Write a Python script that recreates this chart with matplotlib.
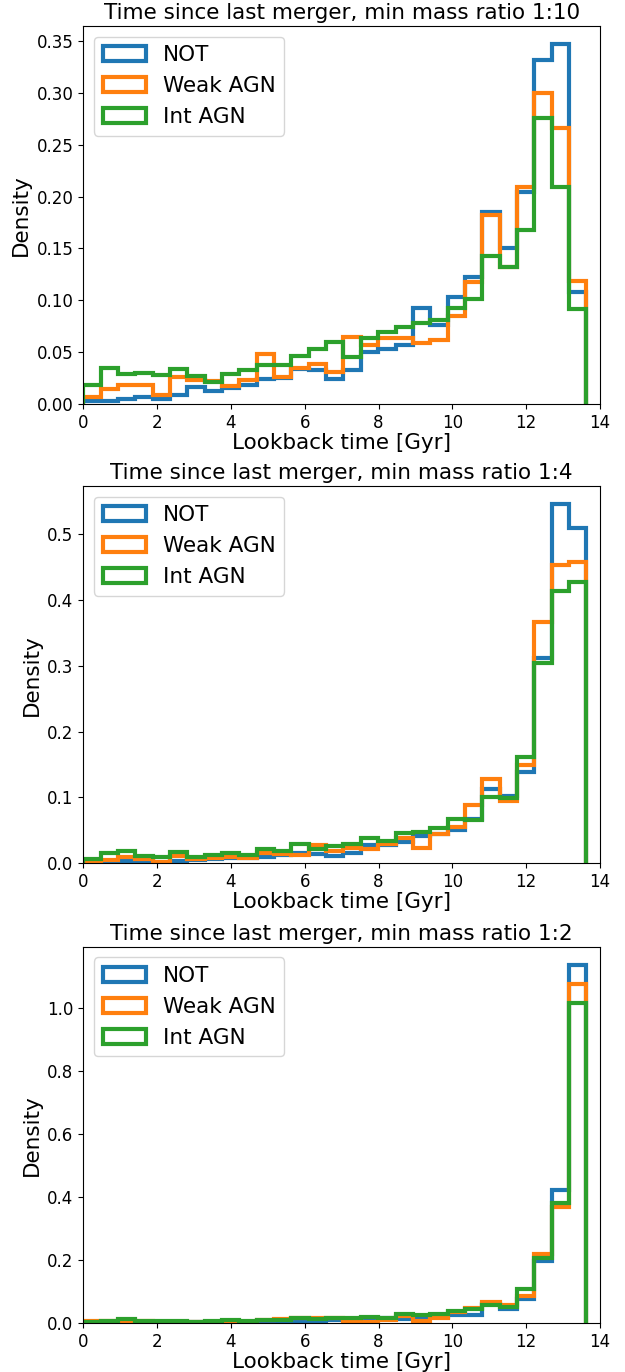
import numpy as np
import matplotlib
matplotlib.use("Agg")
import matplotlib.pyplot as plt

# Bin edges (Gyr)
n_bins = 29
t_max = 13.63
edges = np.linspace(0.0, t_max, n_bins + 1)

labels = ["NOT", "Weak AGN", "Int AGN"]
colors = ["#1f77b4", "#ff7f0e", "#2ca02c"]
titles = ["Time since last merger, min mass ratio 1:10",
          "Time since last merger, min mass ratio 1:4",
          "Time since last merger, min mass ratio 1:2"]

# Panel 1: min mass ratio 1:10
p1_not = [0.003, 0.003, 0.005, 0.007, 0.005, 0.009, 0.016, 0.013, 0.015, 0.018,
          0.024, 0.025, 0.034, 0.033, 0.024, 0.033, 0.050, 0.053, 0.057, 0.093,
          0.076, 0.103, 0.122, 0.185, 0.150, 0.204, 0.332, 0.347, 0.108]
p1_weak = [0.007, 0.014, 0.018, 0.018, 0.009, 0.026, 0.023, 0.022, 0.017, 0.023,
           0.048, 0.026, 0.035, 0.039, 0.031, 0.065, 0.057, 0.064, 0.064, 0.059,
           0.062, 0.085, 0.118, 0.182, 0.132, 0.209, 0.300, 0.266, 0.119]
p1_int = [0.018, 0.035, 0.029, 0.030, 0.028, 0.034, 0.027, 0.021, 0.029, 0.033,
          0.038, 0.038, 0.046, 0.053, 0.060, 0.045, 0.064, 0.069, 0.074, 0.078,
          0.081, 0.093, 0.101, 0.143, 0.132, 0.168, 0.276, 0.209, 0.092]

# Panel 2: min mass ratio 1:4
p2_not = [0.002, 0.002, 0.003, 0.003, 0.000, 0.003, 0.005, 0.006, 0.008, 0.008,
          0.009, 0.013, 0.015, 0.014, 0.011, 0.016, 0.028, 0.028, 0.033, 0.042,
          0.044, 0.051, 0.067, 0.113, 0.102, 0.139, 0.312, 0.546, 0.509]
p2_weak = [0.003, 0.005, 0.009, 0.006, 0.002, 0.011, 0.007, 0.008, 0.010, 0.008,
           0.016, 0.014, 0.013, 0.028, 0.019, 0.023, 0.022, 0.029, 0.038, 0.024,
           0.044, 0.055, 0.089, 0.128, 0.095, 0.149, 0.366, 0.453, 0.458]
p2_int = [0.006, 0.016, 0.018, 0.011, 0.010, 0.017, 0.010, 0.012, 0.015, 0.013,
          0.021, 0.019, 0.029, 0.022, 0.027, 0.030, 0.039, 0.034, 0.046, 0.047,
          0.053, 0.068, 0.066, 0.100, 0.099, 0.161, 0.304, 0.413, 0.428]

# Panel 3: min mass ratio 1:2
p3_not = [0.003, 0.005, 0.007, 0.005, 0.002, 0.003, 0.003, 0.003, 0.005, 0.003,
          0.005, 0.007, 0.003, 0.005, 0.011, 0.013, 0.016, 0.016, 0.013, 0.019,
          0.021, 0.026, 0.026, 0.060, 0.044, 0.076, 0.199, 0.424, 1.138]
p3_weak = [0.007, 0.007, 0.005, 0.007, 0.003, 0.005, 0.005, 0.005, 0.005, 0.005,
           0.011, 0.014, 0.018, 0.016, 0.016, 0.007, 0.005, 0.011, 0.023, 0.007,
           0.016, 0.035, 0.047, 0.069, 0.058, 0.087, 0.219, 0.370, 1.077]
p3_int = [0.003, 0.007, 0.013, 0.007, 0.007, 0.007, 0.005, 0.007, 0.010, 0.008,
          0.010, 0.010, 0.016, 0.013, 0.016, 0.016, 0.019, 0.018, 0.030, 0.026,
          0.030, 0.040, 0.044, 0.058, 0.053, 0.108, 0.206, 0.382, 1.016]

panels = [(p1_not, p1_weak, p1_int),
          (p2_not, p2_weak, p2_int),
          (p3_not, p3_weak, p3_int)]

W, H = 625, 1372
fig = plt.figure(figsize=(W / 100, H / 100), dpi=100)

# axes boxes in pixels: (left, top, right, bottom)
boxes = [(83.3, 26.0, 600.0, 404.0),
         (83.3, 486.0, 600.0, 863.3),
         (83.3, 946.7, 600.0, 1323.3)]

centers = 0.5 * (edges[:-1] + edges[1:])
for (l, t, r, b), title, series in zip(boxes, titles, panels):
    ax = fig.add_axes([l / W, 1 - b / H, (r - l) / W, (b - t) / H])
    for vals, lab, col in zip(series, labels, colors):
        ax.hist(centers, bins=edges, weights=vals, histtype="step",
                linewidth=3, color=col, label=lab)
    ax.set_xlim(0, 14)
    ax.set_title(title, fontsize=15.5, pad=5)
    ax.set_xlabel("Lookback time [Gyr]", fontsize=15.5, labelpad=1)
    ax.set_ylabel("Density", fontsize=15.5)
    ax.tick_params(labelsize=12)
    ax.legend(loc="upper left", fontsize=15.5)

fig.savefig("out.png", dpi=100)
